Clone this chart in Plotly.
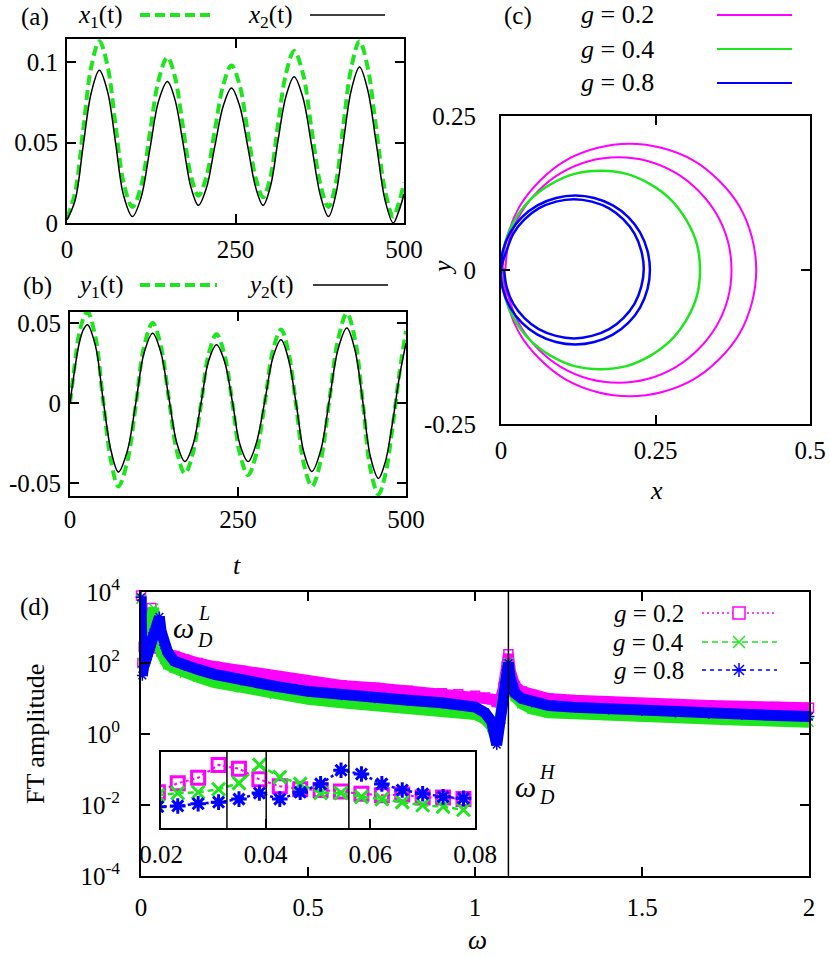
import numpy as np
import plotly.graph_objects as go

W, H = 830, 958
FONT = "Liberation Serif"
GREEN = "#1fe51f"
MAGENTA = "#ff00ff"
BLUE = "#0000ff"

# ---------------- panel (a): x1(t), x2(t) ----------------
t_a = [0, 12, 24, 36, 48, 60, 72, 84, 97, 110, 123, 136, 149, 160, 172, 184, 195, 207, 219, 232, 244,
       256, 268, 280, 291, 302, 313, 325, 337, 350, 363, 376, 388, 399, 410, 422, 434, 446, 459, 472,
       484, 492, 500]
x1_a = [0.003, 0.019, 0.058, 0.097, 0.113, 0.098, 0.061, 0.025, 0.010, 0.023, 0.056, 0.089, 0.103,
        0.091, 0.060, 0.029, 0.017, 0.029, 0.057, 0.086, 0.098, 0.086, 0.057, 0.028, 0.016, 0.029,
        0.061, 0.093, 0.107, 0.093, 0.058, 0.024, 0.010, 0.025, 0.061, 0.097, 0.113, 0.097, 0.058,
        0.020, 0.004, 0.012, 0.025]
x2_a = [0.002, 0.014, 0.048, 0.081, 0.095, 0.082, 0.050, 0.017, 0.004, 0.016, 0.046, 0.076, 0.088,
        0.077, 0.050, 0.022, 0.011, 0.022, 0.047, 0.073, 0.084, 0.073, 0.048, 0.022, 0.011, 0.023,
        0.051, 0.079, 0.091, 0.078, 0.048, 0.017, 0.004, 0.018, 0.050, 0.083, 0.097, 0.083, 0.049,
        0.014, 0.0, 0.007, 0.018]

# ---------------- panel (b): y1(t), y2(t) ----------------
t_b = [0, 7, 13, 20, 26, 38, 49, 61, 72, 85, 98, 110, 123, 135, 147, 159, 171, 183, 195, 206, 218,
       230, 242, 253, 265, 277, 290, 302, 314, 325, 337, 348, 360, 373, 386, 399, 412, 424, 436, 447,
       459, 469, 480, 490, 500]
y1_b = [0.0, 0.024, 0.042, 0.053, 0.057, 0.041, 0.0025, -0.036, -0.052, -0.037, -0.001, 0.035, 0.05,
        0.036, 0.003, -0.030, -0.044, -0.031, -0.0005, 0.030, 0.043, 0.030, -0.001, -0.032, -0.045,
        -0.032, 0.0005, 0.033, 0.046, 0.032, -0.003, -0.038, -0.052, -0.036, 0.002, 0.040, 0.056,
        0.040, -0.0005, -0.041, -0.057, -0.045, -0.015, 0.018, 0.045]
y2_b = [0.0, 0.021, 0.036, 0.046, 0.049, 0.0356, 0.003, -0.0296, -0.043, -0.0303, 0.0003, 0.031,
        0.0437, 0.032, 0.0036, -0.025, -0.0365, -0.026, 0.0, 0.026, 0.0365, 0.026, 0.0, -0.026,
        -0.0365, -0.0254, 0.0016, 0.0285, 0.0396, 0.0276, -0.0016, -0.0307, -0.0427, -0.0296,
        0.0021, 0.0338, 0.0469, 0.0332, 0.0, -0.0333, -0.047, -0.037, -0.012, 0.016, 0.0375]

# ---------------- panel (c): trajectories in the x-y plane ----------------
traj_g02_x = [0.003, 0.010, 0.030, 0.063, 0.105, 0.155, 0.208, 0.261, 0.311, 0.353, 0.386, 0.406,
              0.413, 0.406, 0.386, 0.353, 0.311, 0.261, 0.208, 0.155, 0.105, 0.063, 0.030, 0.010,
              0.003, 0.013, 0.032, 0.061, 0.098, 0.143, 0.190, 0.237, 0.282, 0.319, 0.348, 0.367,
              0.373, 0.367, 0.348, 0.319, 0.282, 0.237, 0.190, 0.143, 0.098, 0.061, 0.032, 0.013, 0.007]
traj_g02_y = [0.000, -0.053, -0.103, -0.145, -0.178, -0.198, -0.205, -0.198, -0.178, -0.145, -0.103,
              -0.053, 0.000, 0.053, 0.103, 0.145, 0.178, 0.198, 0.205, 0.198, 0.178, 0.145, 0.103,
              0.053, 0.000, -0.047, -0.092, -0.129, -0.158, -0.177, -0.183, -0.177, -0.158, -0.129,
              -0.092, -0.047, 0.000, 0.047, 0.092, 0.129, 0.158, 0.177, 0.183, 0.177, 0.158, 0.129,
              0.092, 0.047, 0.000]
traj_g04_x = [0.000, 0.006, 0.022, 0.047, 0.080, 0.119, 0.161, 0.203, 0.242, 0.275, 0.300, 0.317,
              0.322, 0.317, 0.300, 0.275, 0.242, 0.203, 0.161, 0.119, 0.080, 0.047, 0.022, 0.006, 0.000]
traj_g04_y = [0.000, -0.042, -0.081, -0.114, -0.139, -0.156, -0.161, -0.156, -0.139, -0.114, -0.081,
              -0.042, 0.000, 0.042, 0.081, 0.114, 0.139, 0.156, 0.161, 0.156, 0.139, 0.114, 0.081,
              0.042, 0.000]
traj_g08_x = [0.005, 0.009, 0.020, 0.038, 0.061, 0.089, 0.118, 0.147, 0.175, 0.198, 0.216, 0.227,
              0.231, 0.227, 0.216, 0.198, 0.175, 0.147, 0.118, 0.089, 0.061, 0.038, 0.020, 0.009,
              0.000, 0.003, 0.015, 0.034, 0.059, 0.089, 0.120, 0.151, 0.181, 0.206, 0.225, 0.237,
              0.241, 0.237, 0.225, 0.206, 0.181, 0.151, 0.120, 0.089, 0.059, 0.034, 0.015, 0.003, 0.000]
traj_g08_y = [0.002, -0.027, -0.055, -0.078, -0.096, -0.107, -0.111, -0.107, -0.096, -0.078, -0.055,
              -0.027, 0.002, 0.031, 0.059, 0.082, 0.100, 0.111, 0.115, 0.111, 0.100, 0.082, 0.059,
              0.031, 0.000, -0.031, -0.061, -0.086, -0.105, -0.117, -0.121, -0.117, -0.105, -0.086,
              -0.061, -0.031, 0.000, 0.031, 0.061, 0.086, 0.105, 0.117, 0.121, 0.117, 0.105, 0.086,
              0.061, 0.031, 0.000]

# ---------------- panel (d): FT amplitude (log10 values) ----------------
omega = [0.0, 0.004, 0.008, 0.012, 0.015, 0.019, 0.023, 0.027, 0.031, 0.035, 0.038, 0.042, 0.046,
         0.05, 0.055, 0.06, 0.07, 0.08, 0.1, 0.13, 0.17, 0.22, 0.3, 0.4, 0.5, 0.6, 0.7, 0.8, 0.9,
         0.95, 1.0, 1.03, 1.05, 1.065, 1.075, 1.085, 1.09, 1.095, 1.1, 1.105, 1.11, 1.12, 1.14, 1.17,
         1.22, 1.3, 1.4, 1.5, 1.6, 1.7, 1.8, 1.9, 2.0]
log_ft_g02 = [3.9, 2.0, 2.45, 2.73, 2.99, 3.1, 3.2, 3.3, 3.55, 3.0, 2.75, 2.6, 2.5, 2.45, 2.4, 2.35,
              2.3, 2.25, 2.2, 2.1, 2.0, 1.9, 1.78, 1.6, 1.47, 1.37, 1.3, 1.22, 1.15, 1.12, 1.08, 1.03,
              0.98, 0.9, 0.95, 1.3, 1.6, 1.9, 2.25, 1.8, 1.55, 1.35, 1.2, 1.1, 1.0, 0.95, 0.9, 0.86,
              0.83, 0.8, 0.78, 0.76, 0.74]
log_ft_g04 = [3.8, 2.0, 2.2, 2.4, 2.55, 2.7, 2.85, 3.0, 3.2, 3.35, 3.55, 3.0, 2.75, 2.6, 2.45, 2.3,
              2.1, 1.95, 1.85, 1.72, 1.6, 1.45, 1.3, 1.12, 0.98, 0.88, 0.8, 0.73, 0.67, 0.62, 0.55,
              0.42, 0.2, -0.2, 0.4, 1.1, 1.5, 1.85, 2.02, 1.6, 1.3, 1.05, 0.85, 0.7, 0.6, 0.56, 0.52,
              0.48, 0.45, 0.42, 0.39, 0.36, 0.33]
log_ft_g08 = [3.85, 1.65, 1.9, 2.0, 2.1, 2.2, 2.3, 2.45, 2.6, 2.75, 2.85, 2.95, 3.05, 3.15, 3.3, 2.9,
              2.5, 2.3, 2.05, 1.93, 1.82, 1.68, 1.52, 1.35, 1.2, 1.1, 1.02, 0.95, 0.88, 0.83, 0.76,
              0.6, 0.35, -0.3, 0.3, 1.0, 1.45, 1.8, 2.0, 1.6, 1.35, 1.15, 1.0, 0.9, 0.8, 0.75, 0.7,
              0.66, 0.62, 0.58, 0.55, 0.52, 0.49]
omega_DH = 1.1

# inset (relative amplitude, no y scale shown)
omega_in = [0.0194, 0.0232, 0.0271, 0.031, 0.0349, 0.0388, 0.0427, 0.0466, 0.0505, 0.0544, 0.0583,
            0.0622, 0.0661, 0.07, 0.0739, 0.0778]
in_g02 = [0.47, 0.59, 0.66, 0.83, 0.78, 0.64, 0.55, 0.51, 0.50, 0.48, 0.45, 0.43, 0.44, 0.40, 0.40, 0.38]
in_g04 = [0.43, 0.46, 0.47, 0.51, 0.59, 0.83, 0.67, 0.58, 0.46, 0.46, 0.41, 0.38, 0.34, 0.30, 0.28, 0.24]
in_g08 = [0.28, 0.29, 0.32, 0.34, 0.38, 0.46, 0.38, 0.47, 0.58, 0.76, 0.71, 0.58, 0.50, 0.45, 0.41, 0.39]
omega_DL_lines = [0.0326, 0.0401, 0.0559]

g_labels = ["0.2", "0.4", "0.8"]

# ====================================================================
fig = go.Figure()

# (a)
fig.add_trace(go.Scatter(x=t_a, y=x1_a, xaxis="x", yaxis="y", mode="lines",
                         line=dict(color=GREEN, width=4, dash="10px,5px", shape="spline"), showlegend=False))
fig.add_trace(go.Scatter(x=t_a, y=x2_a, xaxis="x", yaxis="y", mode="lines",
                         line=dict(color="black", width=1.5, shape="spline"), showlegend=False))
# (b)
fig.add_trace(go.Scatter(x=t_b, y=y1_b, xaxis="x2", yaxis="y2", mode="lines",
                         line=dict(color=GREEN, width=4, dash="10px,5px", shape="spline"), showlegend=False))
fig.add_trace(go.Scatter(x=t_b, y=y2_b, xaxis="x2", yaxis="y2", mode="lines",
                         line=dict(color="black", width=1.5, shape="spline"), showlegend=False))
# (c)
for xs, ys, col, w in [(traj_g02_x, traj_g02_y, MAGENTA, 2),
                       (traj_g04_x, traj_g04_y, GREEN, 2.5),
                       (traj_g08_x, traj_g08_y, BLUE, 2.5)]:
    fig.add_trace(go.Scatter(x=xs, y=ys, xaxis="x3", yaxis="y3", mode="lines",
                             line=dict(color=col, width=w, shape="spline", smoothing=1.0),
                             showlegend=False))
# (d) main
for logv, col, sym in [(log_ft_g02, MAGENTA, "square-open"),
                       (log_ft_g04, GREEN, "x-thin-open"),
                       (log_ft_g08, BLUE, "asterisk-open")]:
    fig.add_trace(go.Scatter(x=omega, y=np.power(10.0, logv), xaxis="x4", yaxis="y4",
                             mode="lines+markers", cliponaxis=False,
                             line=dict(color=col, width=11),
                             marker=dict(symbol=sym, size=9, color=col, line=dict(color=col, width=1.5)),
                             showlegend=False))
# (d) inset
for vals, col, sym, dash, lw in [(in_g02, MAGENTA, "square-open", "dot", 2),
                                 (in_g04, GREEN, "x-thin-open", "6px,4px", 2.5),
                                 (in_g08, BLUE, "asterisk-open", "dot", 2.5)]:
    fig.add_trace(go.Scatter(x=omega_in, y=vals, xaxis="x5", yaxis="y5", mode="lines+markers",
                             line=dict(color=col, width=lw, dash=dash),
                             marker=dict(symbol=sym, size=13, color=col, line=dict(color=col, width=3)),
                             showlegend=False))


def dom_x(a, b):
    return [a / W, b / W]


def dom_y(top, bottom):
    return [1 - bottom / H, 1 - top / H]


tickfont = dict(family=FONT, size=25, color="black")


def axis(domain, rng, anchor, tickvals=None, ticktext=None, **kw):
    d = dict(domain=domain, range=rng, anchor=anchor, showline=True, linecolor="black", linewidth=2,
             mirror="ticks", ticks="inside", ticklen=9, tickwidth=1.5, tickcolor="black",
             showgrid=False, zeroline=False, tickfont=tickfont, automargin=False)
    if tickvals is not None:
        d["tickvals"] = tickvals
        d["ticktext"] = ticktext if ticktext is not None else [str(v) for v in tickvals]
    d.update(kw)
    return d


layout = dict(
    width=W, height=H, margin=dict(l=0, r=0, t=0, b=0, autoexpand=False),
    paper_bgcolor="white", plot_bgcolor="rgba(0,0,0,0)", showlegend=False,
    font=dict(family=FONT, color="black"),
    xaxis=axis(dom_x(67, 404), [0, 500], "y", [0, 250, 500], ticklabelstandoff=3),
    yaxis=axis(dom_y(39, 223), [0, 0.1144], "x", [0, 0.05, 0.1], ["0", "0.05", "0.1"], ticklabelstandoff=2),
    xaxis2=axis(dom_x(70, 406), [0, 500], "y2", [0, 250, 500], ticklabelstandoff=0),
    yaxis2=axis(dom_y(312, 496), [-0.058, 0.0569], "x2", [-0.05, 0, 0.05], ["-0.05", "0", "0.05"],
                ticklabelstandoff=2),
    xaxis3=axis(dom_x(501, 810), [0, 0.5], "y3", [0, 0.25, 0.5], ["0", "0.25", "0.5"], ticklabelstandoff=3),
    yaxis3=axis(dom_y(116, 424), [-0.25, 0.25], "x3", [-0.25, 0, 0.25], ["-0.25", "0", "0.25"],
                ticklabelstandoff=18),
    xaxis4=axis(dom_x(141, 809), [0, 2], "y4", [0, 0.5, 1, 1.5, 2], ["0", "0.5", "1", "1.5", "2"],
                ticklabelstandoff=8),
    yaxis4=axis(dom_y(592, 876), [-4, 4], "x4", [1e-4, 1e-2, 1, 1e2, 1e4],
                ["10<sup>-4</sup>", "10<sup>-2</sup>", "10<sup>0</sup>", "10<sup>2</sup>", "10<sup>4</sup>"],
                type="log", ticklabelstandoff=14),
    xaxis5=axis(dom_x(161, 475), [0.02, 0.08], "y5", [0.02, 0.04, 0.06, 0.08],
                ["0.02", "0.04", "0.06", "0.08"], mirror=True, ticklabelstandoff=3),
    yaxis5=axis(dom_y(752, 828), [0, 1], "x5", ticks="", showticklabels=False, mirror=True),
)

shapes = []
annotations = []


def P(xp, yp):
    return xp / W, 1 - yp / H


def seg(x0, y0, x1, y1, color, width, dash=None):
    a, b = P(x0, y0)
    c, d = P(x1, y1)
    ln = dict(color=color, width=width)
    if dash:
        ln["dash"] = dash
    shapes.append(dict(type="line", xref="paper", yref="paper", x0=a, y0=b, x1=c, y1=d, line=ln))


def text(xp, yp, s, size=25, xanchor="center", angle=0):
    a, b = P(xp, yp)
    annotations.append(dict(x=a, y=b, xref="paper", yref="paper", text=s, showarrow=False,
                            xanchor=xanchor, yanchor="middle", textangle=angle,
                            font=dict(family=FONT, size=size, color="black")))


# panel labels and legends (a), (b)
text(35, 17, "(a)")
text(100, 17, "<i>x</i><sub>1</sub>(t)")
seg(140, 15, 213, 15, GREEN, 4, "10px,5px")
text(270, 17, "<i>x</i><sub>2</sub>(t)")
seg(310, 15, 385, 15, "black", 1.5)

text(37, 286, "(b)")
text(100, 286, "<i>y</i><sub>1</sub>(t)")
seg(140, 285, 217, 285, GREEN, 4, "10px,5px")
text(270, 286, "<i>y</i><sub>2</sub>(t)")
seg(313, 285, 388, 285, "black", 1.5)
text(237, 565, "<i>t</i>", 26)

# (c)
text(518, 16, "(c)")
for i, (g, col) in enumerate(zip(g_labels, [MAGENTA, GREEN, BLUE])):
    yy = 15 + 34 * i
    text(617, yy, "<i>g</i> = " + g, 26)
    seg(717, yy, 792, yy, col, 2)
text(656, 490, "<i>x</i>", 26)
text(442, 268, "<i>y</i>", 26, angle=-90)

# (d)
text(34, 607, "(d)")
text(35, 734, "FT amplitude", 26, angle=-90)
text(477, 940, "<i>ω</i>", 27)
text(183, 627, "<i>ω</i>", 30)
text(204, 613, "<i>L</i>", 20)
text(205, 640, "<i>D</i>", 20)
text(525, 786, "<i>ω</i>", 30)
text(547, 772, "<i>H</i>", 20)
text(547, 797, "<i>D</i>", 20)

leg_y = [613, 642, 670]
for g, yy in zip(g_labels, leg_y):
    text(686, yy, "<i>g</i> = " + g, 25, xanchor="right")
seg(702, leg_y[0], 777, leg_y[0], MAGENTA, 1.5, "2px,3px")
a, b = P(733, leg_y[0] - 6)
c, d = P(745, leg_y[0] + 6)
shapes.append(dict(type="rect", xref="paper", yref="paper", x0=a, y0=b, x1=c, y1=d,
                   line=dict(color=MAGENTA, width=1.5), fillcolor="white"))
seg(702, leg_y[1], 777, leg_y[1], GREEN, 1.5, "6px,4px")
seg(733, leg_y[1] - 6, 745, leg_y[1] + 6, GREEN, 1.5)
seg(733, leg_y[1] + 6, 745, leg_y[1] - 6, GREEN, 1.5)
seg(702, leg_y[2], 777, leg_y[2], BLUE, 1.5, "4px,4px")
seg(732, leg_y[2], 746, leg_y[2], BLUE, 1.5)
seg(739, leg_y[2] - 7, 739, leg_y[2] + 7, BLUE, 1.5)
seg(734, leg_y[2] - 5, 744, leg_y[2] + 5, BLUE, 1.5)
seg(734, leg_y[2] + 5, 744, leg_y[2] - 5, BLUE, 1.5)

# vertical marker lines
shapes.append(dict(type="line", xref="x4", yref="y4 domain", x0=omega_DH, x1=omega_DH, y0=0, y1=1,
                   line=dict(color="black", width=1.5)))
for w0 in omega_DL_lines:
    shapes.append(dict(type="line", xref="x5", yref="y5 domain", x0=w0, x1=w0, y0=0, y1=1,
                       line=dict(color="black", width=1.5)))

layout["shapes"] = shapes
layout["annotations"] = annotations
fig.update_layout(**layout)
fig.write_html("out.html", config={"displayModeBar": False},
               post_script="document.body.style.margin='0';document.body.style.overflow='hidden';")
